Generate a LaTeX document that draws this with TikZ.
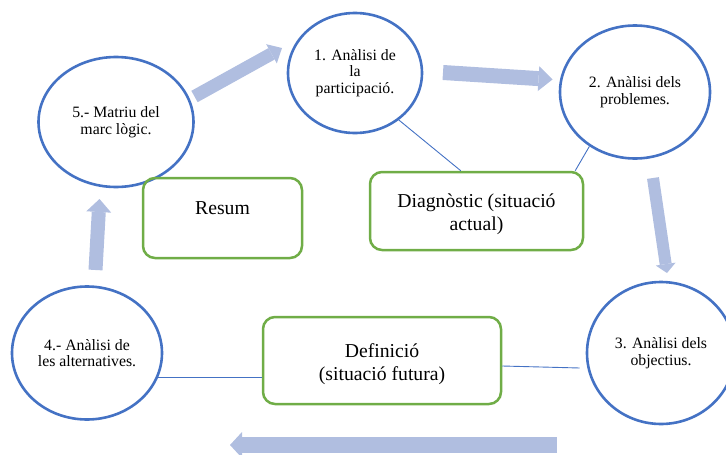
\documentclass[tikz,border=0pt]{standalone}
\usepackage{fontspec}
\setmainfont{Liberation Serif}
\usetikzlibrary{shapes.geometric,arrows.meta,calc}
\definecolor{eblue}{HTML}{4472C4}
\definecolor{bgreen}{HTML}{70AD47}
\definecolor{abl}{RGB}{176,190,224}
\begin{document}
\begin{tikzpicture}[x=1pt,y=-1pt,
  stage/.style={ellipse,draw=eblue,line width=2.6pt,inner sep=0pt,align=center,
    font=\fontsize{15.8}{16.5}\selectfont},
  phase/.style={rectangle,rounded corners=12pt,draw=bgreen,line width=2.5pt,inner sep=0pt,
    align=center,font=\fontsize{19.7}{23}\selectfont},
  link/.style={draw=eblue,line width=0.9pt},
  flow/.style n args={3}{draw=abl,line width=#1,line cap=butt,
    -{Triangle[width=#2,length=#3,line width=0pt,fill=abl]}}]
\useasboundingbox (0,0) rectangle (726,455);

% stages
\node[stage,minimum width=134pt,minimum height=120pt] (e1) at (355,73)
  {1. Anàlisi de\\la\\participació.};
\node[stage,minimum width=150pt,minimum height=133pt] (e2) at (635,92)
  {2. Anàlisi dels\\problemes.};
\node[stage,minimum width=148pt,minimum height=142pt] (e3) at (661,353)
  {3. Anàlisi dels\\objectius.};
\node[stage,minimum width=150pt,minimum height=133pt] (e4) at (87,353)
  {4.- Anàlisi de\\les alternatives.};
\node[stage,minimum width=155pt,minimum height=130pt] (e5) at (116,122)
  {5.- Matriu del\\marc lògic.};

% phases
\node[phase,minimum width=159pt,minimum height=80pt,text depth=19pt] (resum) at (222.5,218) {Resum};
\node[phase,minimum width=213pt,minimum height=78pt] (diag) at (476.5,211)
  {\rule{0pt}{19.5pt}Diagnòstic (situació\\actual)};
\node[phase,minimum width=238pt,minimum height=87pt] (defi) at (382,360.5)
  {\rule{0pt}{21.5pt}Definició\\(situació futura)};

% thin links
\draw[link] (e1.-47) -- ($(diag.north west)!0.427!(diag.north east)$);
\draw[link] (e2.230) -- ($(diag.north west)!0.958!(diag.north east)$);
\draw[link] (e4.-19) -- (e4.-19 -| defi.west);
\draw[link] ([yshift=-5.5pt]defi.east) -- ([xshift=-6pt,yshift=-15pt]e3.west);

% flow arrows
\coordinate (f51s) at (194.5,96.5);
\coordinate (f51e) at (282,48);
\coordinate (f12s) at (443,72.5);
\coordinate (f12e) at (552.5,79.5);
\coordinate (f23s) at (653,178);
\coordinate (f23e) at (667,273);
\coordinate (f34s) at (557,445);
\coordinate (f34e) at (230,445);
\coordinate (f45s) at (95.5,270);
\coordinate (f45e) at (99.5,199);
\draw[flow={13pt}{22pt}{12pt}] (f51s) -- (f51e);
\draw[flow={15pt}{25pt}{14pt}] (f12s) -- (f12e);
\draw[flow={12pt}{20pt}{9pt}] (f23s) -- (f23e);
\draw[flow={16pt}{26pt}{12pt}] (f34s) -- (f34e);
\draw[flow={14pt}{25pt}{13pt}] (f45s) -- (f45e);
\end{tikzpicture}
\end{document}
